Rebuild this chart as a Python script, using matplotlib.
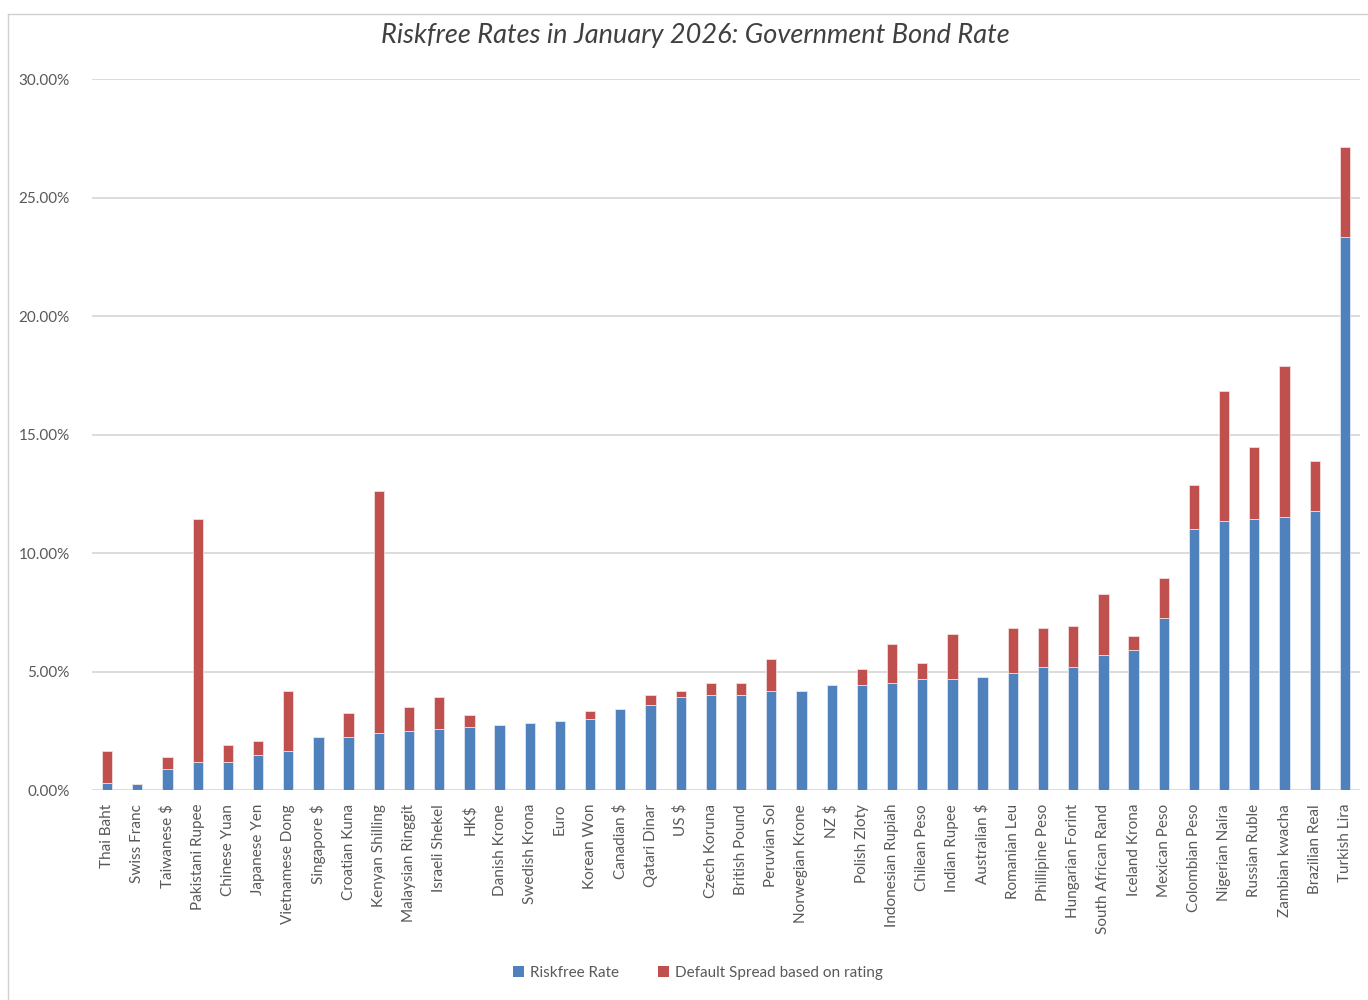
import matplotlib
matplotlib.use("Agg")
import matplotlib.pyplot as plt
from matplotlib.ticker import FuncFormatter, MultipleLocator
from matplotlib.patches import Patch
from matplotlib.lines import Line2D
import numpy as np

currencies = ["Thai Baht", "Swiss Franc", "Taiwanese $", "Pakistani Rupee", "Chinese Yuan",
              "Japanese Yen", "Vietnamese Dong", "Singapore $", "Croatian Kuna", "Kenyan Shilling",
              "Malaysian Ringgit", "Israeli Shekel", "HK$", "Danish Krone", "Swedish Krona",
              "Euro", "Korean Won", "Canadian $", "Qatari Dinar", "US $",
              "Czech Koruna", "British Pound", "Peruvian Sol", "Norwegian Krone", "NZ $",
              "Polish Zloty", "Indonesian Rupiah", "Chilean Peso", "Indian Rupee", "Australian $",
              "Romanian Leu", "Phillipine Peso", "Hungarian Forint", "South African Rand", "Iceland Krona",
              "Mexican Peso", "Colombian Peso", "Nigerian Naira", "Russian Ruble", "Zambian kwacha",
              "Brazilian Real", "Turkish Lira"]

riskfree_rate = [0.28, 0.26, 0.87, 1.19, 1.19,
                 1.46, 1.63, 2.24, 2.24, 2.39,
                 2.49, 2.57, 2.66, 2.75, 2.83,
                 2.91, 3.00, 3.43, 3.60, 3.94,
                 4.02, 4.02, 4.19, 4.19, 4.44,
                 4.44, 4.53, 4.70, 4.70, 4.78,
                 4.95, 5.20, 5.20, 5.71, 5.89,
                 7.24, 11.00, 11.34, 11.43, 11.51,
                 11.77, 23.32]

total_rate = [1.63, 0.26, 1.39, 11.42, 1.90,
              2.07, 4.19, 2.24, 3.26, 12.60,
              3.52, 3.94, 3.18, 2.75, 2.83,
              2.91, 3.35, 3.43, 4.02, 4.19,
              4.53, 4.53, 5.54, 4.19, 4.44,
              5.12, 6.14, 5.37, 6.57, 4.78,
              6.82, 6.82, 6.91, 8.27, 6.48,
              8.94, 12.86, 16.85, 14.47, 17.88,
              13.88, 27.14]

default_spread = [max(t - r, 0.0) for t, r in zip(total_rate, riskfree_rate)]

BLUE = "#4F81BD"
RED = "#C0504D"
GRID = "#D9D9D9"
TXT = "#595959"
FONT = "Lato"

plt.rcParams['font.family'] = [FONT, 'DejaVu Sans']

fig = plt.figure(figsize=(13.68, 10.0), dpi=100)
ax = fig.add_axes([92/1368, 1 - 790/1000, (1360 - 92)/1368, (790 - 79)/1000])

x = np.arange(len(currencies))
w = 0.34
ax.bar(x, riskfree_rate, width=w, color=BLUE, edgecolor="#DCE6F2", linewidth=0.6, zorder=3)
ax.bar(x, default_spread, width=w, bottom=riskfree_rate, color=RED, edgecolor="#F2DCDB",
       linewidth=0.6, zorder=3)

ax.set_xlim(-0.5, len(currencies) - 0.5)
ax.set_ylim(0, 30)
ax.yaxis.set_major_locator(MultipleLocator(5))
ax.yaxis.set_major_formatter(FuncFormatter(lambda v, p: f"{v:.2f}%"))
ax.grid(axis='y', color=GRID, linewidth=1.3, zorder=0)
ax.set_axisbelow(True)
for s in ax.spines.values():
    s.set_visible(False)

ax.set_xticks(x)
ax.set_xticklabels(currencies, rotation=90, fontsize=11, color=TXT, va='top', ha='center')
ax.tick_params(axis='x', length=0, pad=10)
ax.tick_params(axis='y', length=0, pad=16, labelsize=11, labelcolor=TXT)

fig.text(695/1368, 1 - 36/1000, "Riskfree Rates in January 2026: Government Bond Rate",
         ha='center', va='center', fontsize=19.5, style='italic', color="#404040")

handles = [Patch(facecolor=BLUE, edgecolor='none'), Patch(facecolor=RED, edgecolor='none')]
fig.legend(handles, ["Riskfree Rate", "Default Spread based on rating"],
           loc='center', bbox_to_anchor=(698/1368, 1 - 973/1000), ncol=2, frameon=False,
           fontsize=11, labelcolor=TXT, handlelength=0.7, handleheight=0.7,
           handletextpad=0.4, columnspacing=2.6)

# chart-area frame edges (Excel chart border)
fig.add_artist(Line2D([8/1368, 8/1368], [0, 1 - 14/1000], transform=fig.transFigure,
                      color="#D0D0D0", linewidth=1.0))
fig.add_artist(Line2D([8/1368, 1], [1 - 14/1000, 1 - 14/1000], transform=fig.transFigure,
                      color="#D0D0D0", linewidth=1.0))

fig.savefig("out.png", dpi=100, facecolor="white")
